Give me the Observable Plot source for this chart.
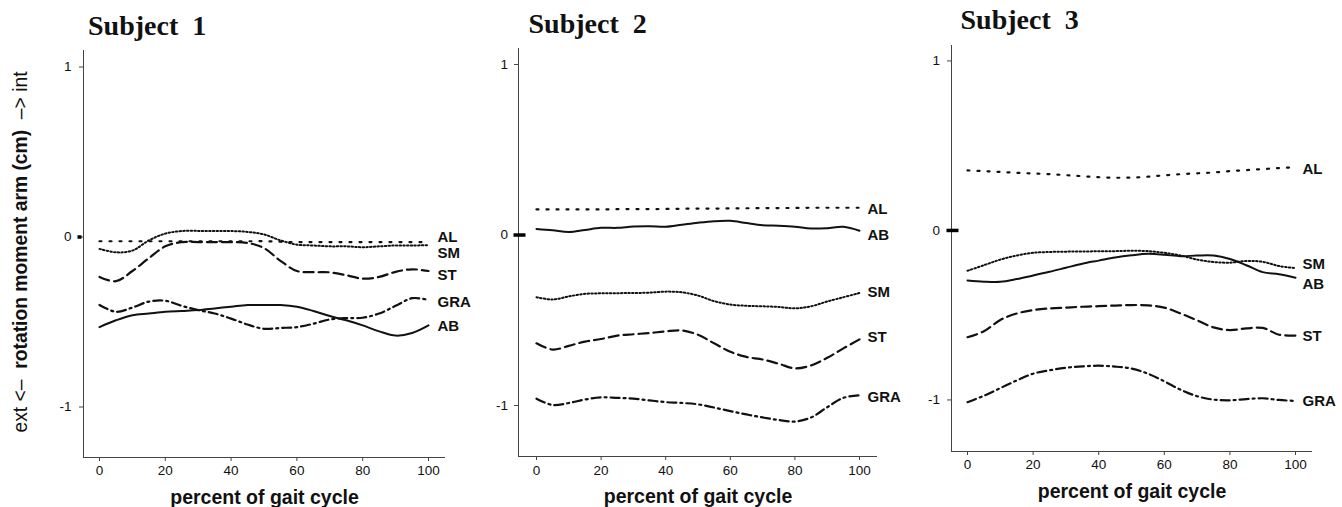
<!DOCTYPE html>
<html>
<head>
<meta charset="utf-8">
<script src="https://cdn.jsdelivr.net/npm/d3@7"></script>
<script src="https://cdn.jsdelivr.net/npm/@observablehq/plot@0.6"></script>
<style>
  html, body { margin: 0; padding: 0; background: #fff; }
  #wrap { position: relative; width: 1342px; height: 507px; overflow: hidden; background: #fff; }
  #wrap > svg { position: absolute; top: 0; }
  #ylab {
    position: absolute; left: 21px; top: 252px;
    transform: translate(-50%, -50%) rotate(-90deg);
    font-family: "Liberation Sans", Arial, sans-serif; font-size: 19.3px;
    white-space: pre; color: #111; line-height: 1;
  }
  #ylab b { font-weight: bold; }
</style>
</head>
<body>
<div id="wrap">
  <div id="ylab"><span>ext &lt;–  </span><b>rotation moment arm (cm)</b><span>  –&gt; int</span></div>
</div>
<script>
// ---- data ----
const pct = [0,5,10,15,20,25,30,35,40,45,50,55,60,65,70,75,80,85,90,95,100];
const xTicks = [0,20,40,60,80,100];
const yTicks = [-1,0,1];
const muscles = ["AL","SM","ST","GRA","AB"];
const titles = ["Subject  1","Subject  2","Subject  3"];
const xLabel = "percent of gait cycle";

// Subject 1
const s1AL  = [-0.025,-0.025,-0.025,-0.025,-0.025,-0.025,-0.025,-0.025,-0.025,-0.025,-0.025,-0.028,-0.03,-0.03,-0.03,-0.03,-0.03,-0.03,-0.03,-0.03,-0.03];
const s1SM  = [-0.07,-0.09,-0.08,-0.02,0.02,0.035,0.036,0.035,0.035,0.03,0.015,-0.02,-0.045,-0.05,-0.055,-0.055,-0.06,-0.055,-0.05,-0.05,-0.048];
const s1ST  = [-0.235,-0.26,-0.2,-0.125,-0.055,-0.03,-0.03,-0.03,-0.03,-0.035,-0.065,-0.14,-0.2,-0.207,-0.208,-0.225,-0.245,-0.235,-0.205,-0.19,-0.2];
const s1GRA = [-0.40,-0.44,-0.415,-0.38,-0.375,-0.405,-0.43,-0.45,-0.48,-0.515,-0.54,-0.535,-0.53,-0.51,-0.485,-0.477,-0.475,-0.45,-0.405,-0.36,-0.37];
const s1AB  = [-0.53,-0.49,-0.46,-0.45,-0.44,-0.435,-0.43,-0.42,-0.41,-0.40,-0.40,-0.40,-0.41,-0.435,-0.465,-0.49,-0.52,-0.555,-0.58,-0.565,-0.52];

// Subject 2
const s2AL  = [0.15,0.15,0.15,0.15,0.15,0.152,0.152,0.152,0.153,0.154,0.155,0.155,0.156,0.157,0.158,0.158,0.159,0.16,0.16,0.16,0.16];
const s2AB  = [0.036,0.028,0.018,0.03,0.042,0.042,0.05,0.052,0.048,0.06,0.072,0.081,0.083,0.07,0.058,0.054,0.048,0.038,0.04,0.048,0.025];
const s2SM  = [-0.365,-0.378,-0.36,-0.345,-0.342,-0.341,-0.34,-0.338,-0.332,-0.336,-0.355,-0.388,-0.408,-0.415,-0.418,-0.422,-0.43,-0.418,-0.39,-0.365,-0.34];
const s2ST  = [-0.635,-0.672,-0.65,-0.625,-0.61,-0.59,-0.582,-0.575,-0.565,-0.56,-0.585,-0.635,-0.685,-0.715,-0.73,-0.755,-0.782,-0.765,-0.72,-0.665,-0.612];
const s2GRA = [-0.96,-0.997,-0.985,-0.965,-0.952,-0.955,-0.96,-0.97,-0.98,-0.985,-0.993,-1.012,-1.033,-1.052,-1.07,-1.085,-1.094,-1.07,-1.01,-0.955,-0.94];

// Subject 3
const s3AL  = [0.354,0.35,0.345,0.34,0.336,0.332,0.326,0.32,0.314,0.311,0.312,0.317,0.325,0.332,0.337,0.342,0.35,0.356,0.362,0.368,0.373];
const s3SM  = [-0.238,-0.205,-0.172,-0.148,-0.132,-0.127,-0.125,-0.124,-0.123,-0.122,-0.12,-0.122,-0.132,-0.148,-0.172,-0.186,-0.19,-0.18,-0.185,-0.21,-0.222];
const s3AB  = [-0.295,-0.302,-0.303,-0.287,-0.266,-0.244,-0.22,-0.196,-0.178,-0.16,-0.147,-0.138,-0.143,-0.152,-0.148,-0.148,-0.168,-0.205,-0.246,-0.258,-0.279];
const s3ST  = [-0.63,-0.595,-0.528,-0.49,-0.47,-0.46,-0.455,-0.45,-0.447,-0.443,-0.44,-0.442,-0.455,-0.49,-0.53,-0.572,-0.588,-0.578,-0.575,-0.615,-0.62];
const s3GRA = [-1.013,-0.975,-0.93,-0.885,-0.845,-0.825,-0.81,-0.802,-0.798,-0.803,-0.815,-0.845,-0.89,-0.94,-0.978,-0.998,-1.002,-0.995,-0.99,-1.0,-1.006];

// ---- styles ----
const lineStyle = {
  AL:  {strokeDasharray: "2,8", strokeWidth: 2.2},
  SM:  {strokeDasharray: "1.5,2.2", strokeWidth: 2},
  ST:  {strokeDasharray: "10,5", strokeWidth: 2.2},
  GRA: {strokeDasharray: "9,4,2,4", strokeWidth: 2.2},
  AB:  {strokeWidth: 2}
};

const panels = [
  {title: titles[0], series: {AL: s1AL, SM: s1SM, ST: s1ST, GRA: s1GRA, AB: s1AB},
   left: 0, width: 470, ml: 83, mr: 25, mt: 50, mb: 50,
   xd: [-4.86, 105.17], yd: [-1.297, 1.097],
   labDx: 9, labDy: {AL: -5, SM: 8, ST: 4, GRA: 2, AB: 1},
   titleDx: 4.5, titleDy: -16, zeroL: -5.5, zeroR: 1.5, xTickDy: 13, yTickDx: -12},
  {title: titles[1], series: {AL: s2AL, SM: s2SM, ST: s2ST, GRA: s2GRA, AB: s2AB},
   left: 470, width: 440, ml: 48, mr: 33, mt: 48, mb: 51,
   xd: [-5.57, 105.57], yd: [-1.299, 1.094],
   labDx: 8, labDy: {AL: 1, AB: 4, SM: -1, ST: -2, GRA: 2},
   titleDx: 10, titleDy: -16, zeroL: -4.5, zeroR: -7.5, xTickDy: 14, yTickDx: -10.5},
  {title: titles[2], series: {AL: s3AL, SM: s3SM, ST: s3ST, GRA: s3GRA, AB: s3AB},
   left: 900, width: 442, ml: 51, mr: 30, mt: 45, mb: 56,
   xd: [-4.88, 105.18], yd: [-1.304, 1.091],
   labDx: 7, labDy: {AL: 2, SM: -4, AB: 6, ST: 1, GRA: 0},
   titleDx: 9, titleDy: -17, zeroL: -4.5, zeroR: -7.5, xTickDy: 13, yTickDx: -11.5}
];

const wrap = document.getElementById("wrap");
const axisColor = "#444";
const tickFont = 13.5;

for (const p of panels) {
  const marks = [
    Plot.ruleX([p.xd[0]], {stroke: axisColor, strokeWidth: 1}),
    Plot.ruleY([p.yd[0]], {stroke: axisColor, strokeWidth: 1}),
    // tick marks (labels drawn below as text marks)
    Plot.axisX({ticks: xTicks, tickSize: 4, label: null, stroke: axisColor, fill: "none"}),
    Plot.axisY({ticks: yTicks, tickSize: 4, label: null, stroke: axisColor, fill: "none"}),
    Plot.text(xTicks, {x: d => d, text: d => String(d), frameAnchor: "bottom", dy: p.xTickDy,
                       lineAnchor: "middle", fontSize: tickFont, fill: "#111"}),
    Plot.text(yTicks, {y: d => d, text: d => String(d), frameAnchor: "left", dx: p.yTickDx,
                       textAnchor: "end", lineAnchor: "middle", fontSize: tickFont, fill: "#111"}),
    // thick zero mark on the y axis
    Plot.ruleY([0], {x1: p.xd[0], x2: p.xd[0], insetLeft: p.zeroL, insetRight: p.zeroR, stroke: "#000", strokeWidth: 3.5})
  ];
  for (const m of muscles) {
    const vals = p.series[m];
    const data = vals.map((v, i) => ({x: pct[i], y: v}));
    marks.push(Plot.line(data, {x: "x", y: "y", stroke: "#111", curve: "catmull-rom", ...lineStyle[m]}));
    marks.push(Plot.text([data[data.length - 1]], {
      x: "x", y: "y", text: () => m, dx: p.labDx, dy: p.labDy[m],
      textAnchor: "start", lineAnchor: "middle", fontSize: 15, fontWeight: "bold", fill: "#111"
    }));
  }
  marks.push(Plot.text([p.title], {
    frameAnchor: "top-left", dx: p.titleDx, dy: p.titleDy, textAnchor: "start", lineAnchor: "bottom",
    fontFamily: "'Liberation Serif', 'Times New Roman', serif", fontSize: 28, fontWeight: "bold", fill: "#111"
  }));
  marks.push(Plot.text([xLabel], {
    frameAnchor: "bottom", dy: 40, lineAnchor: "middle", fontSize: 19.5, fontWeight: "bold", fill: "#111"
  }));

  const svg = Plot.plot({
    width: p.width, height: 507,
    marginLeft: p.ml, marginRight: p.mr, marginTop: p.mt, marginBottom: p.mb,
    x: {domain: p.xd, label: null},
    y: {domain: p.yd, label: null},
    style: {background: "transparent", fontFamily: "'Liberation Sans', Arial, sans-serif", color: "#111", overflow: "visible"},
    marks
  });
  svg.style.left = p.left + "px";
  wrap.appendChild(svg);
}
</script>
</body>
</html>
